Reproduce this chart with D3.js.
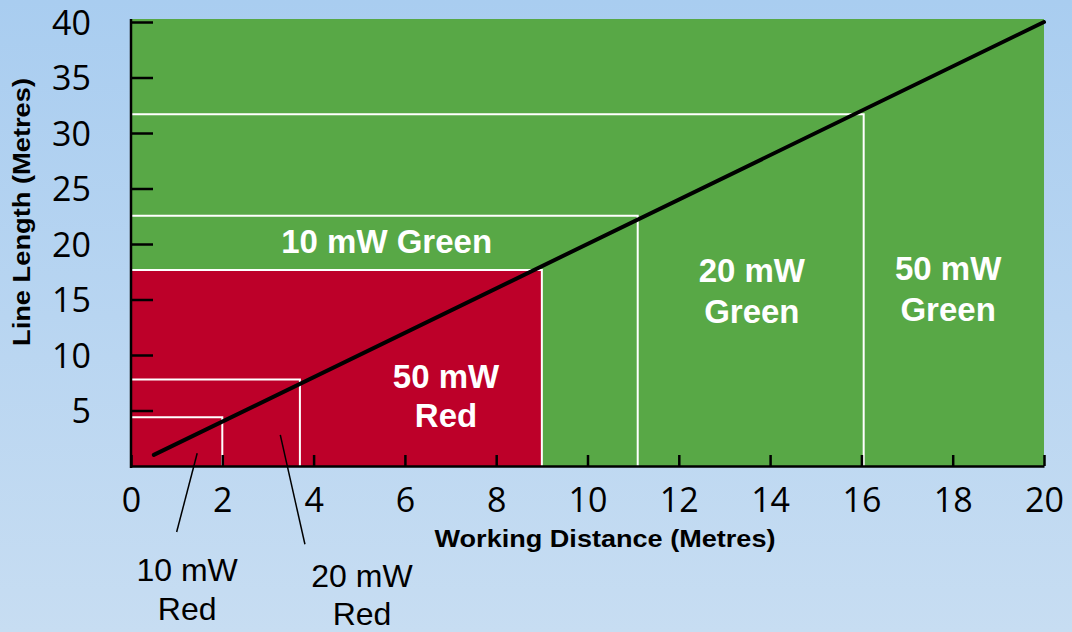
<!DOCTYPE html>
<html>
<head>
<meta charset="utf-8">
<script src="https://cdn.jsdelivr.net/npm/d3@7"></script>
<style>
  body { margin: 0; padding: 0; overflow: hidden; }
  svg { display: block; }
</style>
</head>
<body>
<div id="vis"></div>
<script>
const frame_width = 1072;
const frame_height = 632;
const margins = {left: 131, right: 28, top: 22, bottom: 166};

// data
const xTicks = [0, 2, 4, 6, 8, 10, 12, 14, 16, 18, 20];
const yTicks = [5, 10, 15, 20, 25, 30, 35, 40];
// zone boundaries (working distance, line length)
const zoneNames = ["10 mW Red", "20 mW Red", "50 mW Red", "10 mW Green", "20 mW Green", "50 mW Green"];
const zoneDistance = [2.0, 3.7, 9.0, 11.1, 16.05, 20];
const zoneLength = [4.4, 7.8, 17.65, 22.55, 31.7, 40];
// diagonal line
const lineDistance = [0.5, 20];
const lineLength = [1, 40];

const svg = d3.select("#vis")
  .append("svg")
    .attr("width", frame_width)
    .attr("height", frame_height);

// background gradient
const defs = svg.append("defs");
const grad = defs.append("linearGradient")
  .attr("id", "bg")
  .attr("x1", 0).attr("y1", 0).attr("x2", 0).attr("y2", 1);
grad.append("stop").attr("offset", "0%").attr("stop-color", "#a9cdf0");
grad.append("stop").attr("offset", "100%").attr("stop-color", "#c7ddf2");

svg.append("rect")
  .attr("width", frame_width)
  .attr("height", frame_height)
  .attr("fill", "url(#bg)");

const x_scale = d3.scaleLinear()
  .domain([0, 20])
  .range([margins.left, frame_width - margins.right]);
const y_scale = d3.scaleLinear()
  .domain([0, 40])
  .range([frame_height - margins.bottom, margins.top]);

const green = "#58a846";
const red = "#bd0029";

// whole plot area green
svg.append("rect")
  .attr("x", x_scale(0))
  .attr("y", y_scale(40) - 3)
  .attr("width", x_scale(20) - x_scale(0))
  .attr("height", y_scale(0) - y_scale(40) + 3)
  .attr("fill", green);

// red zone (50 mW Red)
svg.append("rect")
  .attr("x", x_scale(0))
  .attr("y", y_scale(zoneLength[2]))
  .attr("width", x_scale(zoneDistance[2]) - x_scale(0))
  .attr("height", y_scale(0) - y_scale(zoneLength[2]))
  .attr("fill", red);

// white zone outlines
const outlines = d3.range(5).map(i => ({d: zoneDistance[i], l: zoneLength[i]}));
svg.selectAll(".zone")
  .data(outlines)
  .enter()
  .append("path")
    .attr("class", "zone")
    .attr("d", (o) => "M" + x_scale(0) + "," + y_scale(o.l) +
                      "H" + x_scale(o.d) + "V" + y_scale(0))
    .attr("fill", "none")
    .attr("stroke", "white")
    .attr("stroke-width", 2);

// diagonal line
svg.append("line")
  .attr("x1", x_scale(lineDistance[0]))
  .attr("y1", y_scale(lineLength[0]))
  .attr("x2", x_scale(lineDistance[1]))
  .attr("y2", y_scale(lineLength[1]))
  .attr("stroke", "black")
  .attr("stroke-width", 4)
  .attr("stroke-linecap", "round");

// axes
const yAxis = svg.append("g")
  .attr("transform", "translate(" + x_scale(0) + ",0)")
  .call(d3.axisLeft(y_scale).tickValues(yTicks).tickSizeInner(-22).tickSizeOuter(0).tickPadding(40));
yAxis.select(".domain").attr("stroke-width", 2.5).attr("d", "M0," + (y_scale(40) - 3) + "V" + (y_scale(0) + 2));
yAxis.selectAll(".tick line").attr("stroke-width", 2.5);
yAxis.selectAll(".tick text")
  .attr("font-family", "'Open Sans', sans-serif")
  .attr("font-size", "34px")
  .attr("fill", "black")
  .attr("dy", "0.36em");

const xAxis = svg.append("g")
  .attr("transform", "translate(0," + y_scale(0) + ")")
  .call(d3.axisBottom(x_scale).tickValues(xTicks).tickSizeInner(-11).tickSizeOuter(0).tickPadding(22));
xAxis.select(".domain").attr("stroke-width", 2.5);
xAxis.selectAll(".tick line").attr("stroke-width", 2.5);
xAxis.selectAll(".tick text")
  .attr("font-family", "'Open Sans', sans-serif")
  .attr("font-size", "34px")
  .attr("fill", "black")
  .attr("dy", "0.72em");

// axis titles
svg.append("text")
  .attr("x", 605)
  .attr("y", 547)
  .attr("text-anchor", "middle")
  .attr("font-family", "'Liberation Sans', Arial, sans-serif")
  .attr("font-weight", "bold")
  .attr("font-size", "24px")
  .attr("textLength", 341)
  .attr("lengthAdjust", "spacingAndGlyphs")
  .text("Working Distance (Metres)");

svg.append("text")
  .attr("transform", "translate(30,212) rotate(-90)")
  .attr("text-anchor", "middle")
  .attr("font-family", "'Liberation Sans', Arial, sans-serif")
  .attr("font-weight", "bold")
  .attr("font-size", "23px")
  .attr("textLength", 268)
  .attr("lengthAdjust", "spacingAndGlyphs")
  .text("Line Length (Metres)");

// zone labels inside plot (white, bold)
const insideLabels = [
  {name: zoneNames[3], lines: ["10 mW Green"], x: 5.6, y: [19.15]},
  {name: zoneNames[2], lines: ["50 mW", "Red"], x: 6.9, y: [7.0, 3.55]},
  {name: zoneNames[4], lines: ["20 mW", "Green"], x: 13.6, y: [16.6, 12.9]},
  {name: zoneNames[5], lines: ["50 mW", "Green"], x: 17.9, y: [16.8, 13.1]}
];
insideLabels.forEach((lab) => {
  lab.lines.forEach((t, i) => {
    svg.append("text")
      .attr("x", x_scale(lab.x))
      .attr("y", y_scale(lab.y[i]))
      .attr("text-anchor", "middle")
      .attr("font-family", "'Liberation Sans', Arial, sans-serif")
      .attr("font-weight", "bold")
      .attr("font-size", "33px")
      .attr("fill", "white")
      .text(t);
  });
});

// outside labels with leader lines
const outsideLabels = [
  {lines: ["10 mW", "Red"], x: 1.23, y: [-10.4, -13.9], from: [1.45, 1.15], to: [1.0, -5.95]},
  {lines: ["20 mW", "Red"], x: 5.06, y: [-10.9, -14.35], from: [3.27, 2.8], to: [3.81, -7.05]}
];
outsideLabels.forEach((lab) => {
  svg.append("line")
    .attr("x1", x_scale(lab.from[0]))
    .attr("y1", y_scale(lab.from[1]))
    .attr("x2", x_scale(lab.to[0]))
    .attr("y2", y_scale(lab.to[1]))
    .attr("stroke", "black")
    .attr("stroke-width", 1.5);
  lab.lines.forEach((t, i) => {
    svg.append("text")
      .attr("x", x_scale(lab.x))
      .attr("y", y_scale(lab.y[i]))
      .attr("text-anchor", "middle")
      .attr("font-family", "'Liberation Sans', Arial, sans-serif")
      .attr("font-size", "32px")
      .attr("fill", "black")
      .text(t);
  });
});
</script>
</body>
</html>
